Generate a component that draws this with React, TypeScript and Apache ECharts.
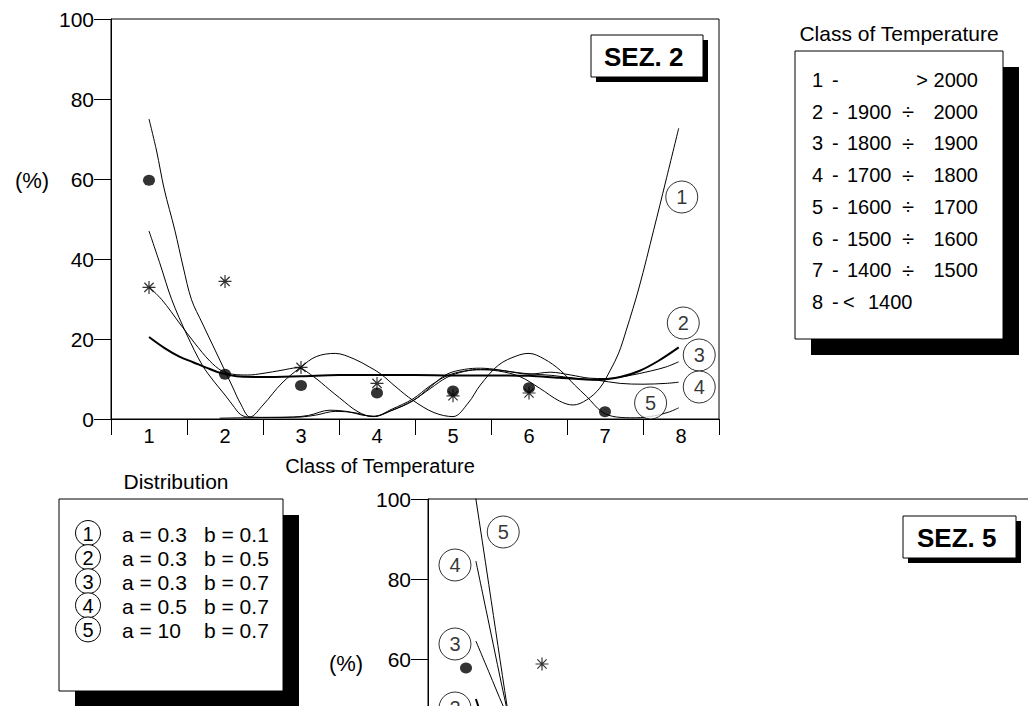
import React, { useEffect, useRef } from "react";
import * as echarts from "echarts";

const FONT = "'Liberation Sans', Arial, Helvetica, sans-serif";

// ---- axis categories ----
const classCategories = ["1", "2", "3", "4", "5", "6", "7", "8"];

// ---- SEZ. 2 measurements ----
const sez2Dots = [[1, 59.7], [2, 11.2], [3, 8.4], [4, 6.5], [5, 7.0], [6, 7.8], [7, 1.8]];
const sez2Stars = [[1, 32.9], [2, 34.4], [3, 12.9], [4, 8.9], [5, 5.8], [6, 6.5]];

// ---- SEZ. 2 fitted curves ----
const sez2Curve1 = [
  [1.93, 0.2], [2.2, 0.3], [2.6, 0.4], [2.9, 0.5], [3.1, 0.9], [3.38, 2.2], [3.6, 1.9], [3.8, 1.0],
  [3.97, 0.7], [4.2, 2.2], [4.47, 4.6], [4.7, 7.6], [4.92, 10.4], [5.15, 11.9], [5.36, 12.3], [5.6, 12.0],
  [5.88, 10.6], [6.14, 7.7], [6.4, 4.5], [6.58, 3.5], [6.76, 4.8], [6.93, 7.7], [7.07, 12.2], [7.18, 16.5],
  [7.28, 22.2], [7.45, 33], [7.64, 47.2], [7.8, 59.5], [7.97, 72.7],
];
const sez2Curve2 = [
  [1, 20.5], [1.2, 17.8], [1.4, 15.6], [1.58, 14.2], [1.8, 12.5], [1.96, 11.4], [2.2, 10.6], [2.5, 10.5],
  [3, 10.7], [3.5, 11], [4, 11], [4.5, 11], [5, 10.9], [5.5, 10.9], [6, 10.8], [6.4, 10.3], [6.9, 9.8],
  [7.2, 10.5], [7.45, 12], [7.7, 14.5], [7.97, 17.9],
];
const sez2Curve3 = [
  [1, 33], [1.17, 29.8], [1.4, 24], [1.6, 19], [1.8, 14.5], [1.96, 12], [2.1, 11.2], [2.3, 11], [2.5, 11.4],
  [2.75, 12.2], [2.95, 12.8], [3.15, 10.8], [3.38, 7.25], [3.51, 5.25], [3.75, 1.8], [3.95, 0.6], [4.15, 1.8],
  [4.47, 4.5], [4.7, 8], [4.92, 11.2], [5.15, 12.4], [5.36, 12.7], [5.6, 12.3], [5.85, 11.5], [6.0, 11.2],
  [6.28, 11.7], [6.55, 11], [6.8, 10.2], [7.0, 10.1], [7.3, 10.8], [7.6, 12], [7.8, 13], [7.97, 14.3],
];
const sez2Curve4 = [
  [1, 47], [1.15, 38.5], [1.3, 29.8], [1.5, 21], [1.7, 13.5], [1.85, 9.5], [2, 6], [2.1, 3.5], [2.2, 1.2],
  [2.3, 0.5], [2.6, 0.4], [3.0, 0.5], [3.2, 1], [3.45, 1.9], [3.7, 1.6], [3.95, 0.6], [4.2, 2.5], [4.47, 5],
  [4.7, 8.3], [4.92, 10.8], [5.15, 12], [5.36, 12.4], [5.6, 12.2], [5.85, 11.6], [6.0, 11.3], [6.3, 10.9],
  [6.6, 10.2], [6.9, 9.7], [7.2, 8.9], [7.5, 8.7], [7.8, 8.9], [7.97, 9.2],
];
const sez2Curve5 = [
  [1, 75], [1.1, 67], [1.2, 57.5], [1.34, 47.2], [1.45, 38], [1.56, 29.8], [1.7, 24], [1.85, 18], [2.0, 12],
  [2.1, 8], [2.2, 4], [2.33, 0.5], [2.5, 3.5], [2.75, 9], [3.0, 13], [3.2, 15.6], [3.45, 16.4], [3.7, 15],
  [3.9, 13], [4.04, 11.4], [4.25, 8], [4.47, 4.7], [4.75, 1.6], [5.0, 0.6], [5.2, 4], [5.36, 8.5], [5.6, 13.5],
  [5.84, 15.8], [6.0, 16.4], [6.2, 15], [6.41, 12.2], [6.6, 8.5], [6.76, 5.6], [6.96, 1.8], [7.15, 0.5],
  [7.4, 0.3], [7.65, 0.8], [7.85, 1.8], [7.97, 2.8],
];
const sez2LabelNames = ["1", "2", "3", "4", "5"];
const sez2LabelPos = [[8.01, 55.5], [8.03, 24], [8.24, 16], [8.24, 8], [7.6, 4]];

// ---- SEZ. 5 (partly visible) ----
const sez5Dots = [[1, 57.75]];
const sez5Stars = [[2, 58.75]];
const sez5Curve2 = [[1.13, 50], [1.2, 46]];
const sez5Curve3 = [[1.13, 64.5], [1.3, 56.8], [1.49, 48.2], [1.6, 44]];
const sez5Curve4 = [[1.13, 84.5], [1.3, 69], [1.53, 48.2], [1.6, 43]];
const sez5Curve5 = [[1.0, 116], [1.13, 100], [1.3, 78.6], [1.54, 48.2], [1.6, 41]];
const sez5LabelNames = ["2", "3", "4", "5"];
const sez5LabelPos = [[0.855, 47.75], [0.855, 63.75], [0.855, 83.5], [1.49, 91.75]];
const sez5VisibleFrom = 60; // only these tick labels fall inside the page

// ---- legends ----
const classNums = ["1", "2", "3", "4", "5", "6", "7", "8"];
const classLow = ["", "1900", "1800", "1700", "1600", "1500", "1400", ""];
const classHigh = ["> 2000", "2000", "1900", "1800", "1700", "1600", "1500", ""];
const classLast = "1400";
const distNames = ["1", "2", "3", "4", "5"];
const distA = ["a = 0.3", "a = 0.3", "a = 0.3", "a = 0.5", "a = 10"];
const distB = ["b = 0.1", "b = 0.5", "b = 0.7", "b = 0.7", "b = 0.7"];

const ASTERISK = "path://M0,-7L0,7M-7,0L7,0M-5,-5L5,5M-5,5L5,-5";

function txt(x: number, y: number, text: string, size: number, align = "left", weight = "normal") {
  return {
    type: "text",
    x,
    y,
    z: 100,
    style: {
      text,
      fontSize: size,
      fontFamily: FONT,
      fontWeight: weight,
      fill: "#000",
      textAlign: align,
      textVerticalAlign: "middle",
    },
  };
}
function rect(x: number, y: number, w: number, h: number, fill: string, stroke?: string) {
  return {
    type: "rect",
    z: 100,
    shape: { x, y, width: w, height: h },
    style: { fill, stroke: stroke || null, lineWidth: 1 },
  };
}

function buildGraphics() {
  const g: any[] = [];
  g.push(txt(32, 180, "(%)", 22, "center"));
  g.push(txt(346, 663, "(%)", 22, "center"));
  g.push(txt(380, 466, "Class of Temperature", 20, "center"));
  g.push(rect(596, 40, 112, 42, "#000"));
  g.push(rect(591, 35, 112, 42, "#fff", "#000"));
  g.push(txt(604, 57, "SEZ. 2", 26, "left", "bold"));
  g.push(rect(908, 521, 113, 42, "#000"));
  g.push(rect(903, 516, 113, 42, "#fff", "#000"));
  g.push(txt(917, 538, "SEZ. 5", 26, "left", "bold"));
  g.push(txt(899, 33, "Class of Temperature", 21, "center"));
  g.push(rect(811, 67, 208, 288, "#000"));
  g.push(rect(795, 51, 208, 288, "#fff", "#000"));
  classNums.forEach((n, i) => {
    const y = 80 + i * 31.7;
    g.push(txt(812, y, n, 20, "left"));
    g.push(txt(832, y, "-", 20, "left"));
    if (i === classNums.length - 1) {
      g.push(txt(843, y, "<", 20, "left"));
      g.push(txt(868, y, classLast, 20, "left"));
    } else {
      if (classLow[i]) {
        g.push(txt(847, y, classLow[i], 20, "left"));
        g.push(txt(908, y, "÷", 22, "center"));
      }
      g.push(txt(978, y, classHigh[i], 20, "right"));
    }
  });
  g.push(txt(176, 481, "Distribution", 21, "center"));
  g.push(rect(75, 515, 224, 192, "#000"));
  g.push(rect(59, 499, 224, 192, "#fff", "#000"));
  distNames.forEach((n, i) => {
    const y = 533 + i * 24.1;
    g.push({
      type: "circle",
      z: 100,
      shape: { cx: 88, cy: y, r: 12.5 },
      style: { fill: "#fff", stroke: "#000", lineWidth: 1 },
    });
    g.push(txt(88, y + 0.5, n, 20, "center"));
    g.push(txt(122, y + 1, distA[i], 21, "left"));
    g.push(txt(204, y + 1, distB[i], 21, "left"));
  });
  return g;
}

function lineSeries(data: number[][], width: number, grid: number) {
  return {
    type: "line",
    xAxisIndex: grid * 2,
    yAxisIndex: grid,
    data,
    smooth: 0.35,
    symbol: "none",
    showSymbol: false,
    clip: true,
    silent: true,
    z: 2,
    lineStyle: { color: "#000", width },
  };
}
function dotSeries(data: number[][], grid: number) {
  return {
    type: "scatter",
    xAxisIndex: grid * 2,
    yAxisIndex: grid,
    data,
    symbol: "circle",
    symbolSize: [12, 11],
    itemStyle: { color: "#000" },
    silent: true,
    z: 4,
  };
}
function starSeries(data: number[][], grid: number) {
  return {
    type: "scatter",
    xAxisIndex: grid * 2,
    yAxisIndex: grid,
    data,
    symbol: ASTERISK,
    symbolSize: 13,
    itemStyle: { color: "rgba(0,0,0,0)", borderColor: "#000", borderWidth: 1.2 },
    silent: true,
    z: 4,
  };
}
function tagSeries(names: string[], pos: number[][], grid: number) {
  return {
    type: "scatter",
    xAxisIndex: grid * 2,
    yAxisIndex: grid,
    data: pos.map((p, i) => ({ name: names[i], value: p })),
    symbol: "circle",
    symbolSize: 32,
    itemStyle: { color: "#fff", borderColor: "#000", borderWidth: 1 },
    label: {
      show: true,
      position: "inside",
      formatter: "{b}",
      fontSize: 20,
      fontFamily: FONT,
      color: "#000",
      textBorderWidth: 0,
    },
    silent: true,
    z: 6,
  };
}

function axesFor(grid: number, showXLabels: boolean, minLabel: number) {
  const x = [
    { type: "value", gridIndex: grid, min: 0.5, max: 8.5, position: "top", show: false },
    {
      type: "category",
      gridIndex: grid,
      data: classCategories,
      boundaryGap: true,
      position: "bottom",
      axisLine: { show: true, lineStyle: { color: "#000", width: 1 } },
      axisTick: { show: true, inside: false, length: 16, lineStyle: { color: "#000" } },
      axisLabel: { show: showXLabels, fontSize: 20, color: "#000", margin: 7, fontFamily: FONT },
      splitLine: { show: false },
    },
  ];
  const y = {
    type: "value",
    gridIndex: grid,
    min: 0,
    max: 100,
    interval: 20,
    axisLine: { show: true, lineStyle: { color: "#000", width: 1 } },
    axisTick: { show: true, inside: false, length: 17, lineStyle: { color: "#000" } },
    axisLabel: {
      fontSize: 21,
      color: "#000",
      margin: 17,
      fontFamily: FONT,
      formatter: (v: number) => (v >= minLabel ? String(v) : ""),
    },
    splitLine: { show: false },
  };
  return { x, y };
}

export default function App() {
  const ref = useRef<HTMLDivElement>(null);
  useEffect(() => {
    if (!ref.current) return;
    const chart = echarts.init(ref.current, undefined, { renderer: "svg" });
    const a0 = axesFor(0, true, 0);
    const a1 = axesFor(1, false, sez5VisibleFrom);
    chart.setOption({
      animation: false,
      backgroundColor: "#fff",
      textStyle: { fontFamily: FONT },
      grid: [
        {
          left: 111, top: 19, width: 608, height: 400, show: true, borderColor: "#000", borderWidth: 1,
          backgroundColor: "transparent", containLabel: false, outerBoundsMode: "none",
        },
        {
          left: 428, top: 499, width: 608, height: 400, show: true, borderColor: "#000", borderWidth: 1,
          backgroundColor: "transparent", containLabel: false, outerBoundsMode: "none",
        },
      ],
      xAxis: [...a0.x, ...a1.x],
      yAxis: [a0.y, a1.y],
      graphic: buildGraphics(),
      series: [
        lineSeries(sez2Curve1, 1, 0),
        lineSeries(sez2Curve2, 2, 0),
        lineSeries(sez2Curve3, 1, 0),
        lineSeries(sez2Curve4, 1, 0),
        lineSeries(sez2Curve5, 1, 0),
        dotSeries(sez2Dots, 0),
        starSeries(sez2Stars, 0),
        tagSeries(sez2LabelNames, sez2LabelPos, 0),
        lineSeries(sez5Curve2, 2, 1),
        lineSeries(sez5Curve3, 1, 1),
        lineSeries(sez5Curve4, 1, 1),
        lineSeries(sez5Curve5, 1, 1),
        dotSeries(sez5Dots, 1),
        starSeries(sez5Stars, 1),
        tagSeries(sez5LabelNames, sez5LabelPos, 1),
      ],
    });
    return () => chart.dispose();
  }, []);
  return (
    <div
      ref={ref}
      style={{ position: "fixed", left: 0, top: 0, width: 1028, height: 706, background: "#fff" }}
    />
  );
}
